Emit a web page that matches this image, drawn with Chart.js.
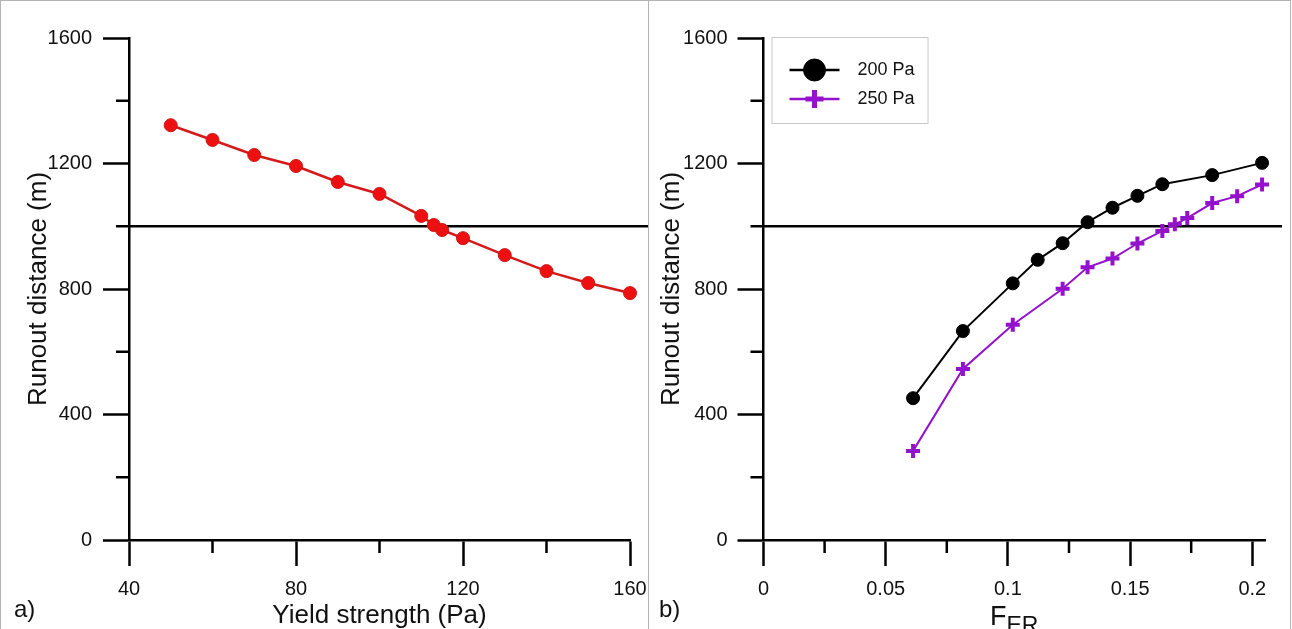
<!DOCTYPE html>
<html>
<head>
<meta charset="utf-8">
<title>Runout distance</title>
<script src="https://cdn.jsdelivr.net/npm/chart.js"></script>
<style>
  body { margin: 0; background: #fff; width: 1292px; height: 629px; overflow: hidden; position: relative; }
  .frame { position: absolute; left: 0; top: 0; width: 1289px; height: 640px; border: 1px solid #b4b4b4; }
  .divider { position: absolute; left: 648px; top: 0; width: 1px; height: 629px; background: #b4b4b4; }
  canvas { position: absolute; top: 0; }
  #chartA { left: 0; }
  #chartB { left: 649px; }
</style>
</head>
<body>
<div class="frame"></div>
<div class="divider"></div>
<canvas id="chartA" width="648" height="629"></canvas>
<canvas id="chartB" width="643" height="629"></canvas>
<script>
// panel a) runout vs yield strength
const yieldStrength = [50, 60, 70, 80, 90, 100, 110, 113, 115, 120, 130, 140, 150, 160];
const runoutByYield = [1322, 1275, 1227, 1192, 1141, 1103, 1033, 1004, 988, 962, 908, 857, 819, 787];

// panel b) runout vs F_ER
const fEr200 = [0.0612, 0.0816, 0.102, 0.1122, 0.1224, 0.1326, 0.1428, 0.153, 0.1632, 0.1836, 0.204];
const runout200 = [452, 666, 818, 893, 946, 1013, 1059, 1097, 1134, 1163, 1202];
const fEr250 = [0.0612, 0.0816, 0.102, 0.1224, 0.1326, 0.1428, 0.153, 0.1632, 0.1683, 0.1734, 0.1836, 0.1938, 0.204];
const runout250 = [284, 545, 686, 801, 869, 897, 945, 985, 1006, 1026, 1074, 1096, 1133];

const seriesNames = ['200 Pa', '250 Pa'];
const thresholdRunout = 1000;

const runoutTicks = ['0', '400', '800', '1200', '1600'];
const runoutMinor = [200, 600, 1000, 1400];
const yieldTicks = ['40', '80', '120', '160'];
const yieldMinor = [60, 100, 140];
const fErTicks = ['0', '0.05', '0.1', '0.15', '0.2'];
const fErMinor = [0.025, 0.075, 0.125, 0.175];

const FONT = "'Liberation Sans', Arial, Helvetica, sans-serif";
Chart.defaults.font.family = FONT;
Chart.defaults.color = '#111';

function pts(xs, ys) {
  return xs.map((x, i) => ({ x: x, y: ys[i] }));
}

// minor ticks, the 1000 m reference line and the panel letter
const panelDecor = {
  id: 'panelDecor',
  beforeDatasetsDraw(chart, args, opts) {
    const { ctx, chartArea, scales } = chart;
    ctx.save();
    ctx.strokeStyle = '#000';
    ctx.lineWidth = 2.5;
    ctx.beginPath();
    opts.minorX.forEach(v => {
      const px = scales.x.getPixelForValue(v);
      ctx.moveTo(px, chartArea.bottom);
      ctx.lineTo(px, chartArea.bottom + 13);
    });
    opts.minorY.forEach(v => {
      const py = scales.y.getPixelForValue(v);
      ctx.moveTo(chartArea.left, py);
      ctx.lineTo(chartArea.left - 13, py);
    });
    ctx.stroke();
    const ty = scales.y.getPixelForValue(opts.threshold);
    ctx.beginPath();
    ctx.moveTo(chartArea.left, ty);
    ctx.lineTo(chartArea.right + opts.overhang, ty);
    ctx.stroke();
    ctx.restore();
  },
  afterDraw(chart, args, opts) {
    const ctx = chart.ctx;
    ctx.save();
    ctx.fillStyle = '#111';
    ctx.font = '24px ' + FONT;
    ctx.textBaseline = 'alphabetic';
    ctx.fillText(opts.letter, opts.letterX, 617);
    ctx.restore();
  }
};

// boxed legend, line + marker
const boxLegend = {
  id: 'boxLegend',
  afterDraw(chart) {
    const { ctx, chartArea } = chart;
    const x0 = chartArea.left + 8, y0 = chartArea.top - 1;
    ctx.save();
    ctx.strokeStyle = '#c8c8c8';
    ctx.lineWidth = 1;
    ctx.strokeRect(x0 + 0.5, y0 + 0.5, 156, 86);
    chart.data.datasets.forEach((ds, i) => {
      const cy = y0 + 33 + i * 29;
      ctx.strokeStyle = ds.borderColor;
      ctx.lineWidth = 2.5;
      ctx.beginPath();
      ctx.moveTo(x0 + 18, cy);
      ctx.lineTo(x0 + 68, cy);
      ctx.stroke();
      ctx.fillStyle = ds.pointBackgroundColor;
      ctx.strokeStyle = ds.pointBorderColor;
      ctx.lineWidth = i === 0 ? 1 : 5;
      Chart.helpers.drawPoint(ctx, { pointStyle: ds.pointStyle, radius: i === 0 ? 11 : 9, borderWidth: ctx.lineWidth, rotation: 0 }, x0 + 43, cy);
      ctx.fillStyle = '#111';
      ctx.font = '18px ' + FONT;
      ctx.textBaseline = 'middle';
      ctx.fillText(ds.label, x0 + 86, cy);
    });
    ctx.restore();
  }
};

// x title of panel b: F with subscript ER
const subTitle = {
  id: 'subTitle',
  afterDraw(chart) {
    const { ctx, chartArea } = chart;
    ctx.save();
    ctx.fillStyle = '#111';
    ctx.textBaseline = 'alphabetic';
    ctx.font = '27px ' + FONT;
    const wF = ctx.measureText('F').width;
    ctx.font = '23px ' + FONT;
    const wS = ctx.measureText('ER').width;
    const cx = (chartArea.left + chartArea.right) / 2;
    const x = cx - (wF + wS) / 2;
    ctx.font = '27px ' + FONT;
    ctx.fillText('F', x, 625);
    ctx.font = '23px ' + FONT;
    ctx.fillText('ER', x + wF, 633);
    ctx.restore();
  }
};

function axisBase(min, max, step, labels, pad) {
  return {
    type: 'linear',
    min: min,
    max: max,
    grid: { drawOnChartArea: false, drawTicks: true, tickLength: 26, tickWidth: 2.5, tickColor: '#000' },
    border: { display: true, color: '#000', width: 2.5 },
    ticks: {
      stepSize: step,
      includeBounds: false,
      padding: pad,
      font: { size: 20 },
      color: '#111',
      callback: (v, i) => labels[i]
    }
  };
}

function fixX(s) { s.height = 89; s.paddingLeft = 0; s.paddingRight = 0; }
function fixY(w) { return s => { s.width = w; s.paddingTop = 0; s.paddingBottom = 0; }; }

// panel a
const xA = axisBase(40, 160, 40, yieldTicks, 11);
xA.title = { display: true, text: 'Yield strength (Pa)', font: { size: 26, lineHeight: 1 }, padding: { top: 0, bottom: 0 }, color: '#111' };
xA.afterFit = fixX;
const yA = axisBase(0, 1600, 400, runoutTicks, 11);
yA.title = { display: true, text: 'Runout distance (m)', font: { size: 26, lineHeight: 1 }, padding: { top: 26, bottom: 0 }, color: '#111' };
yA.afterFit = fixY(129);

new Chart(document.getElementById('chartA'), {
  type: 'scatter',
  data: {
    datasets: [{
      label: 'a',
      data: pts(yieldStrength, runoutByYield),
      showLine: true,
      borderColor: '#d41a1a',
      borderWidth: 2.5,
      pointStyle: 'circle',
      pointRadius: 6.5,
      pointBackgroundColor: '#ee1010',
      pointBorderColor: '#cc1515',
      pointBorderWidth: 1,
      clip: false
    }]
  },
  options: {
    responsive: false,
    animation: false,
    layout: { padding: { top: 38, right: 18, left: 0, bottom: 0 } },
    scales: { x: xA, y: yA },
    plugins: {
      legend: { display: false },
      tooltip: { enabled: false },
      panelDecor: { minorX: yieldMinor, minorY: runoutMinor, threshold: thresholdRunout, overhang: 18, letter: 'a)', letterX: 14 }
    }
  },
  plugins: [panelDecor]
});

// panel b
const xB = axisBase(0, 0.2052, 0.05, fErTicks, 11);
xB.title = { display: false };
xB.afterFit = fixX;
const yB = axisBase(0, 1600, 400, runoutTicks, 10);
yB.title = { display: true, text: 'Runout distance (m)', font: { size: 26, lineHeight: 1 }, padding: { top: 10, bottom: 0 }, color: '#111' };
yB.afterFit = fixY(114.5);

new Chart(document.getElementById('chartB'), {
  type: 'scatter',
  data: {
    datasets: [{
      label: seriesNames[0],
      data: pts(fEr200, runout200),
      showLine: true,
      borderColor: '#000',
      borderWidth: 2,
      pointStyle: 'circle',
      pointRadius: 6.5,
      pointBackgroundColor: '#000',
      pointBorderColor: '#000',
      pointBorderWidth: 1,
      clip: false
    }, {
      label: seriesNames[1],
      data: pts(fEr250, runout250),
      showLine: true,
      borderColor: '#9412cc',
      borderWidth: 2,
      pointStyle: 'cross',
      pointRadius: 7,
      pointBackgroundColor: '#9412cc',
      pointBorderColor: '#9412cc',
      pointBorderWidth: 4,
      clip: false
    }]
  },
  options: {
    responsive: false,
    animation: false,
    layout: { padding: { top: 38, right: 27, left: 0, bottom: 0 } },
    scales: { x: xB, y: yB },
    plugins: {
      legend: { display: false },
      tooltip: { enabled: false },
      panelDecor: { minorX: fErMinor, minorY: runoutMinor, threshold: thresholdRunout, overhang: 17, letter: 'b)', letterX: 10 }
    }
  },
  plugins: [panelDecor, boxLegend, subTitle]
});
</script>
</body>
</html>
